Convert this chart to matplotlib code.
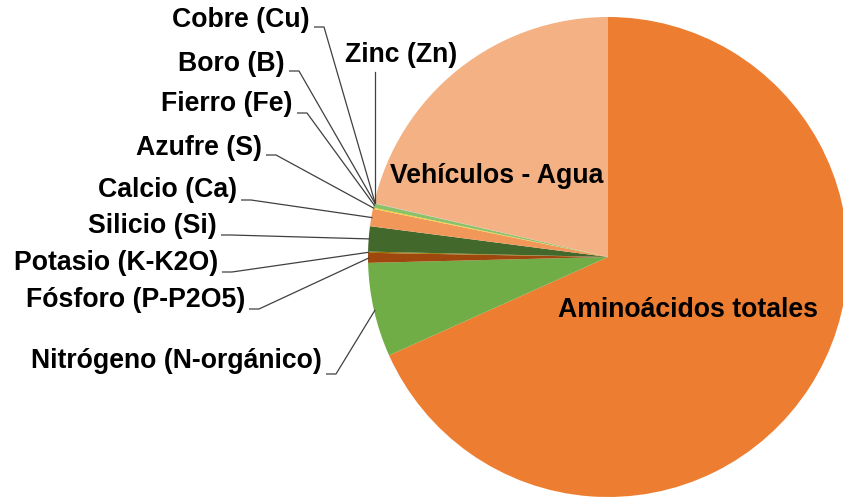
import matplotlib
matplotlib.use('Agg')
import matplotlib.pyplot as plt
import numpy as np

# ---- data ----
labels = ["Aminoácidos totales", "Nitrógeno (N-orgánico)", "Fósforo (P-P2O5)",
          "Potasio (K-K2O)", "Silicio (Si)", "Calcio (Ca)", "Azufre (S)",
          "Fierro (Fe)", "Boro (B)", "Cobre (Cu)", "Zinc (Zn)", "Vehículos - Agua"]
values = [68.28, 6.33, 0.67, 0.08, 1.69, 1.17, 0.08, 0.28, 0.01, 0.01, 0.01, 21.39]
colors = ["#ED7D31", "#70AD47", "#9E480E", "#997300", "#43682B", "#F1975A",
          "#FFCD33", "#8CC168", "#B7B7B7", "#698ED0", "#A9D18E", "#F4B183"]

# ---- layout (pixels in an 843x501 canvas) ----
W, H = 843, 501
CX, CY, R = 608, 257, 240
# outside labels: text right x, text baseline y, leader y
outside = {
    "Nitrógeno (N-orgánico)": (322, 368, 374),
    "Fósforo (P-P2O5)": (245, 307, 309),
    "Potasio (K-K2O)": (218, 270, 272),
    "Silicio (Si)": (217, 233, 235),
    "Calcio (Ca)": (237, 197, 200),
    "Azufre (S)": (262, 155, 155),
    "Fierro (Fe)": (293, 111, 113),
    "Boro (B)": (285, 71, 71),
    "Cobre (Cu)": (310, 27, 27),
}
zinc_pos = (401, 62, 72)  # center x, baseline, leader top
inside = {
    "Aminoácidos totales": (688, 317),
    "Vehículos - Agua": (497, 183),
}


def X(px):
    return (px - CX) / R


def Y(py):
    return (CY - py) / R


fig = plt.figure(figsize=(W / 100, H / 100), dpi=100)
ax = fig.add_axes([0, 0, 1, 1])
wedges, _ = ax.pie(values, colors=colors, startangle=90, counterclock=False,
                   radius=1, center=(0, 0), wedgeprops=dict(linewidth=0))
ax.set_xlim(X(0), X(W))
ax.set_ylim(Y(H), Y(0))
ax.set_aspect('auto')
ax.axis('off')

font = dict(family=['Liberation Sans', 'DejaVu Sans'], fontweight='bold',
            fontsize=19.2, color='black')
lc = '#404040'

for w, lab in zip(wedges, labels):
    mid = np.deg2rad((w.theta1 + w.theta2) / 2)
    axp, ayp = np.cos(mid) * 0.995, np.sin(mid) * 0.995
    if lab in outside:
        tx, by, ly = outside[lab]
        ax.text(X(tx), Y(by), lab, ha='right', va='baseline', **font)
        ax.plot([X(tx + 4), X(tx + 14), axp], [Y(ly), Y(ly), ayp],
                color=lc, lw=0.9, solid_capstyle='butt')
    elif lab == "Zinc (Zn)":
        zx, zb, zl = zinc_pos
        ax.text(X(zx), Y(zb), lab, ha='center', va='baseline', **font)
        ax.plot([axp, axp], [Y(zl), ayp], color=lc, lw=0.9)
    elif lab in inside:
        ix, iy = inside[lab]
        ax.text(X(ix), Y(iy), lab, ha='center', va='baseline', **font)

fig.savefig('out.png', dpi=100)
